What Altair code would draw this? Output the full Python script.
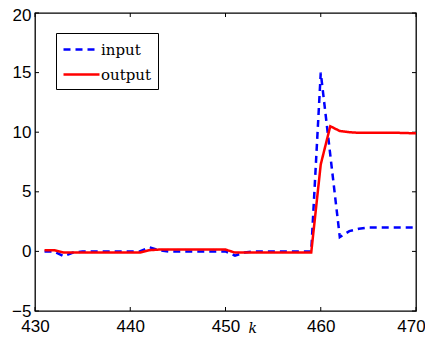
import altair as alt
import pandas as pd

k = list(range(431, 471))
input_vals = [0, 0, -0.4, -0.1, 0, 0, 0, 0, 0, 0, 0,
              0.35, 0.1, 0, 0, 0, 0, 0, 0, 0,
              -0.35, -0.1, 0, 0, 0, 0, 0, 0, 0,
              15, 8.1, 1.2, 1.7, 1.9,
              2, 2, 2, 2, 2, 2]
output_vals = [0.1, 0.1, -0.1, -0.1, -0.1, -0.1, -0.1, -0.1, -0.1, -0.1, -0.1,
               0.1, 0.15, 0.15, 0.15, 0.15, 0.15, 0.15, 0.15, 0.15,
               -0.1, -0.1, -0.1, -0.1, -0.1, -0.1, -0.1, -0.1, -0.1,
               7.3, 10.5, 10.1, 10.0, 9.95,
               9.95, 9.95, 9.95, 9.95, 9.93, 9.9]
series_names = ["input", "output"]
series_colors = ["#0000ff", "#ff0000"]
x_ticks = [430, 440, 450, 460, 470]
y_ticks = [-5, 0, 5, 10, 15, 20]

W, H = 381, 298
TL = 4  # inward tick length

df = pd.DataFrame({
    "k": k * 2,
    "value": input_vals + output_vals,
    "series": ["input"] * len(k) + ["output"] * len(k),
})
xt = pd.DataFrame({"t": x_ticks})
yt = pd.DataFrame({"t": y_ticks})

xscale = alt.Scale(domain=[430, 470], nice=False, zero=False)
yscale = alt.Scale(domain=[-5, 20], nice=False, zero=False)

legend_kw = dict(title=None, orient="none", legendX=21, legendY=20,
                 strokeColor="#000", fillColor="#fff",
                 padding=6, rowPadding=6,
                 symbolType="M-1,0H3", symbolSize=324,
                 symbolStrokeWidth=2.5, labelOffset=18,
                 labelFont="DejaVu Serif", labelFontSize=15,
                 labelColor="#000", cornerRadius=0)

lines = alt.Chart(df).mark_line(strokeWidth=2.5, clip=True).encode(
    x=alt.X("k:Q", scale=xscale,
            axis=alt.Axis(values=x_ticks, title="k", titleFont="DejaVu Serif",
                          titleFontStyle="italic", titleFontWeight="normal",
                          titleFontSize=14, titleX=213, titleY=21,
                          titleAnchor="start", titleBaseline="alphabetic",
                          labelFont="Liberation Sans",
                          labelFontSize=17, labelPadding=7, ticks=False,
                          grid=False, domain=False, labelColor="#000",
                          titleColor="#000", labelFlush=False,
                          labelOffset={"condition": {"test": "datum.value == 470", "value": -5},
                                       "value": 0})),
    y=alt.Y("value:Q", scale=yscale,
            axis=alt.Axis(values=y_ticks, title=None, labelFont="Liberation Sans",
                          labelFontSize=17, labelPadding=4, ticks=False,
                          grid=False, domain=False, labelColor="#000",
                          labelFlush=False,
                          labelOffset={"condition": {"test": "datum.value == 20", "value": 2},
                                       "value": 0})),
    color=alt.Color("series:N",
                    scale=alt.Scale(domain=series_names, range=series_colors),
                    legend=alt.Legend(**legend_kw)),
    strokeDash=alt.StrokeDash("series:N",
                              scale=alt.Scale(domain=series_names, range=[[7, 5], [1, 0]]),
                              legend=alt.Legend(**legend_kw)),
)

tick_style = dict(color="#000", strokeWidth=1)
left_ticks = alt.Chart(yt).mark_rule(**tick_style).encode(
    y=alt.Y("t:Q", scale=yscale), x=alt.value(0), x2=alt.value(TL))
right_ticks = alt.Chart(yt).mark_rule(**tick_style).encode(
    y=alt.Y("t:Q", scale=yscale), x=alt.value(W), x2=alt.value(W - TL))
bottom_ticks = alt.Chart(xt).mark_rule(**tick_style).encode(
    x=alt.X("t:Q", scale=xscale), y=alt.value(H), y2=alt.value(H - TL))
top_ticks = alt.Chart(xt).mark_rule(**tick_style).encode(
    x=alt.X("t:Q", scale=xscale), y=alt.value(0), y2=alt.value(TL))

chart = alt.layer(left_ticks, right_ticks, bottom_ticks, top_ticks, lines).properties(
    width=W, height=H,
    autosize=alt.AutoSizeParams(type="none"),
    padding={"left": 27, "top": 5, "right": 9, "bottom": 22},
).configure(
    background="#fff",
    view=alt.ViewConfig(stroke="#000", strokeWidth=1.3),
)

chart.save("out.html", embed_options={"renderer": "svg", "actions": False})
